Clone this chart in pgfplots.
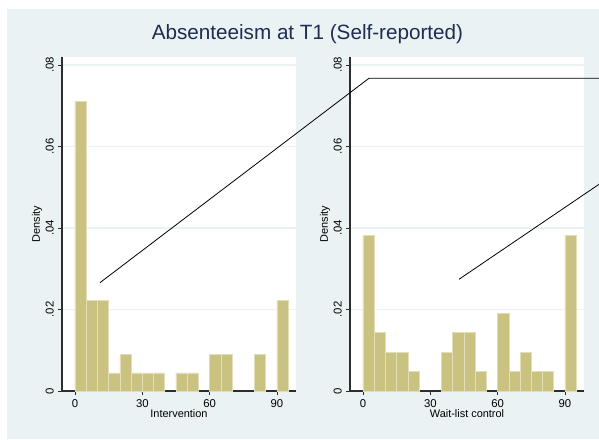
\documentclass[border=0pt]{standalone}
\usepackage{pgfplots}
\pgfplotsset{compat=1.18}
\usepackage{fontspec}
\setmainfont{Liberation Sans}
\definecolor{bgc}{RGB}{234,242,243}
\definecolor{barc}{RGB}{201,194,128}
\definecolor{baredge}{RGB}{226,222,184}
\definecolor{titlec}{RGB}{30,45,80}
\definecolor{axc}{RGB}{45,45,45}
\pgfplotsset{
  panel/.style={
    scale only axis, width=175.5pt, height=250.5pt,
    xmin=-5.79, xmax=98.47, ymin=0, ymax=0.08196,
    axis background/.style={fill=white},
    axis lines*=left,
    axis line style={color=axc, line width=0.8pt},
    xtick={0,30,60,90}, ytick={0,0.02,0.04,0.06,0.08},
    yticklabels={0,.02,.04,.06,.08},
    scaled y ticks=false,
    tick align=outside, major tick length=3pt,
    tick style={color=axc, line width=0.6pt},
    ymajorgrids, major grid style={color=bgc, line width=1pt},
    /pgf/number format/assume math mode=true,
    tick label style={font=\fontsize{8.5}{10}\selectfont, color=black},
    yticklabel style={rotate=90, anchor=south, inner sep=3pt},
    xticklabel style={anchor=north, inner sep=3pt},
    label style={font=\fontsize{8.2}{10}\selectfont, color=black},
    ylabel={Density},
    ylabel style={at={(axis description cs:-0.107,0.5)}, anchor=center, rotate=0},
    xlabel style={at={(axis description cs:0.5,-0.069)}, anchor=center},
    bar width=5, bar shift=0pt,
  },
  bars/.style={ybar, fill=barc, draw=baredge, line width=0.5pt},
}
\begin{document}
\begin{tikzpicture}
\fill[white] (0,0) rectangle (449.25pt,329.25pt);
\fill[bgc] (5.25pt,0) rectangle (449.25pt,322.5pt);
\node[font=\fontsize{15.5}{18}\selectfont, color=titlec] at (230.6pt,303.8pt) {Absenteeism at T1 (Self-reported)};
\begin{axis}[panel, at={(46.5pt,36pt)}, anchor=south west, xlabel={Intervention}]
\addplot[bars] coordinates {
(2.5,0.0711) (7.5,0.0222) (12.5,0.0222) (17.5,0.00444) (22.5,0.00889)
(27.5,0.00444) (32.5,0.00444) (37.5,0.00444) (47.5,0.00444) (52.5,0.00444)
(62.5,0.00889) (67.5,0.00889) (82.5,0.00889) (92.5,0.0222)};
\end{axis}
\begin{axis}[panel, at={(262.5pt,36pt)}, anchor=south west, xlabel={Wait-list control}]
\addplot[bars] coordinates {
(2.5,0.0381) (7.5,0.0143) (12.5,0.00952) (17.5,0.00952) (22.5,0.00476)
(37.5,0.00952) (42.5,0.0143) (47.5,0.0143) (52.5,0.00476) (62.5,0.0190)
(67.5,0.00476) (72.5,0.00952) (77.5,0.00476) (82.5,0.00476) (92.5,0.0381)};
\end{axis}
\begin{axis}[scale only axis, width=175.5pt, height=250.5pt,
  at={(262.5pt,36pt)}, anchor=south west,
  xmin=-5.79, xmax=98.47, ymin=0, ymax=0.08196, hide axis, clip=false]
\addplot[black, line width=0.6pt] coordinates {(-117.2,0.02658) (2.67,0.07674) (105.15,0.07674)};
\addplot[black, line width=0.6pt] coordinates {(42.77,0.02741) (105.15,0.05072)};
\end{axis}
\pgfresetboundingbox
\path (0,0) rectangle (449.25pt,329.25pt);
\end{tikzpicture}
\end{document}
